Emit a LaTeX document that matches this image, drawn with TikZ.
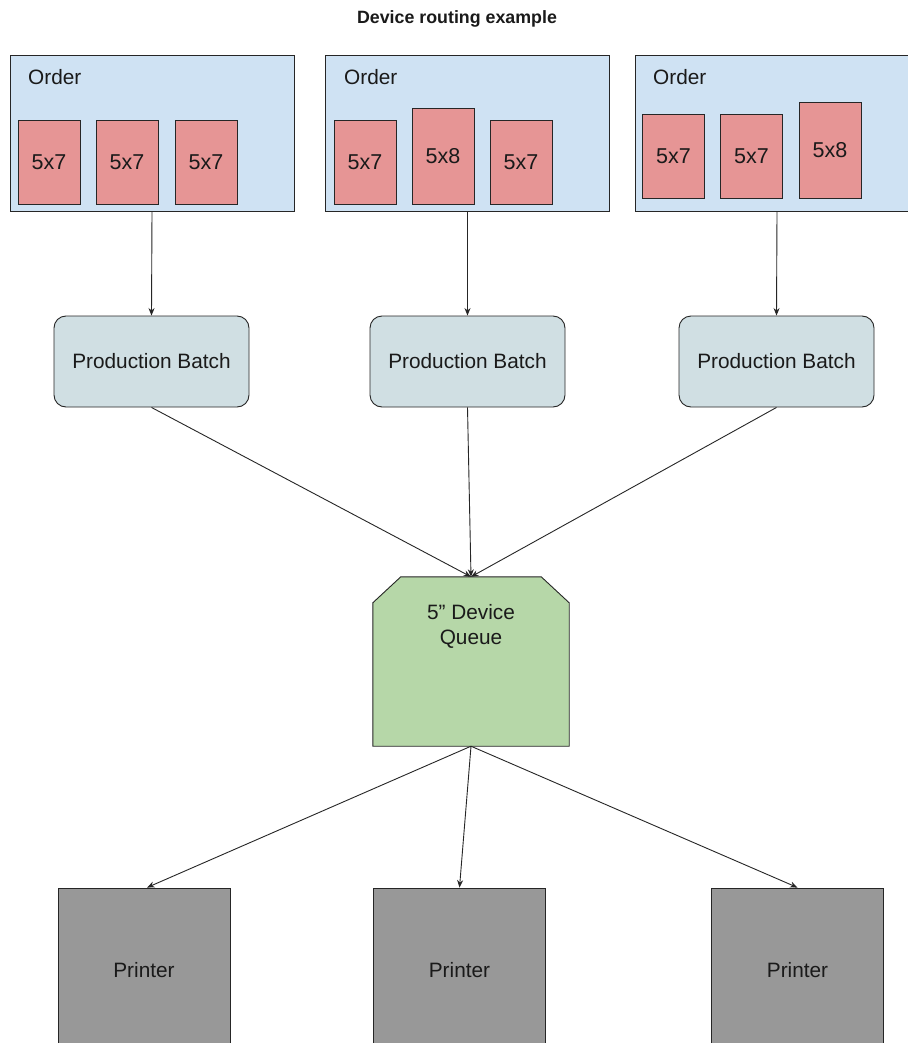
\documentclass[tikz,border=0pt]{standalone}
\usepackage{fontspec}
\setmainfont{Liberation Sans}
\usetikzlibrary{arrows.meta}
\definecolor{orderfill}{HTML}{CFE2F3}
\definecolor{cardfill}{HTML}{E69595}
\definecolor{batchfill}{HTML}{D0DFE3}
\definecolor{queuefill}{HTML}{B6D7A8}
\definecolor{printerfill}{HTML}{989898}
\definecolor{edgecol}{HTML}{262626}
\definecolor{ink}{HTML}{1A1A1A}

\begin{document}
\begin{tikzpicture}[x=1pt,y=-1pt,
  every node/.style={inner sep=0pt, text=ink},
  body/.style={font=\fontsize{20.8}{25}\selectfont},
  orderbox/.style={draw=edgecol, line width=0.9pt, fill=orderfill,
    minimum width=284pt, minimum height=156pt},
  card/.style={draw=edgecol, line width=0.9pt, fill=cardfill,
    minimum width=62pt, font=\fontsize{21.5}{25}\selectfont},
  cardA/.style={card, minimum height=84pt},
  cardB/.style={card, minimum height=96pt},
  batch/.style={draw=edgecol, line width=0.9pt, fill=batchfill, rounded corners=12pt,
    minimum width=195pt, minimum height=91pt, body},
  printer/.style={draw=edgecol, line width=0.9pt, fill=printerfill,
    minimum width=172pt, minimum height=164pt, body},
  arr/.style={draw=edgecol, line width=0.9pt, -{Stealth[length=7.5pt,width=6pt]}}
]
\useasboundingbox (0,0) rectangle (907,1043);
\fill[white] (0,0) rectangle (907,1043);

% title
\node[font=\fontsize{17.8}{21}\selectfont\bfseries] (title) at (457,19) {Device routing example};

% orders and their prints
\node[orderbox] (order1) at (152,133) {};
\node[orderbox] (order2) at (467.5,133) {};
\node[orderbox] (order3) at (777,133) {};
\node[body, anchor=base west] (olab1) at (28,84.5) {Order};
\node[body, anchor=base west] (olab2) at (344,84.5) {Order};
\node[body, anchor=base west] (olab3) at (653,84.5) {Order};

\node[cardA] (c11) at (49,162) {5x7};
\node[cardA] (c12) at (127,162) {5x7};
\node[cardA] (c13) at (206,162) {5x7};

\node[cardA] (c21) at (365,162) {5x7};
\node[cardB] (c22) at (443,156) {5x8};
\node[cardA] (c23) at (521,162) {5x7};

\node[cardA] (c31) at (673.5,156) {5x7};
\node[cardA] (c32) at (751.5,156) {5x7};
\node[cardB] (c33) at (830,150) {5x8};

% production batches
\node[batch] (batch1) at (151.5,361.5) {Production Batch};
\node[batch] (batch2) at (467.5,361.5) {Production Batch};
\node[batch] (batch3) at (776.5,361.5) {Production Batch};

% device queue (chamfered top corners)
\node[minimum width=196pt, minimum height=169pt] (queue) at (471,661.5) {};
\filldraw[draw=edgecol, line width=0.9pt, fill=queuefill]
  ([yshift=-26pt]queue.north west) -- ([xshift=28pt]queue.north west)
  -- ([xshift=-28pt]queue.north east) -- ([yshift=-26pt]queue.north east)
  -- (queue.south east) -- (queue.south west) -- cycle;
\node[body, align=center] (qlabel) at (471,626) {5\textquotedblright\ Device\\Queue};

% printers
\node[printer] (pr1) at (144,970) {Printer};
\node[printer] (pr2) at (459.5,970) {Printer};
\node[printer] (pr3) at (797.5,970) {Printer};

% connectors
\draw[arr] (order1.south) -- (batch1.north);
\draw[arr] (order2.south) -- (batch2.north);
\draw[arr] (order3.south) -- (batch3.north);

\draw[arr] (batch1.south) -- (queue.north);
\draw[arr] (batch2.south) -- (queue.north);
\draw[arr] (batch3.south) -- (queue.north);

\draw[arr] (queue.south) -- ([xshift=3pt]pr1.north);
\draw[arr] (queue.south) -- (pr2.north);
\draw[arr] (queue.south) -- (pr3.north);
\end{tikzpicture}
\end{document}
